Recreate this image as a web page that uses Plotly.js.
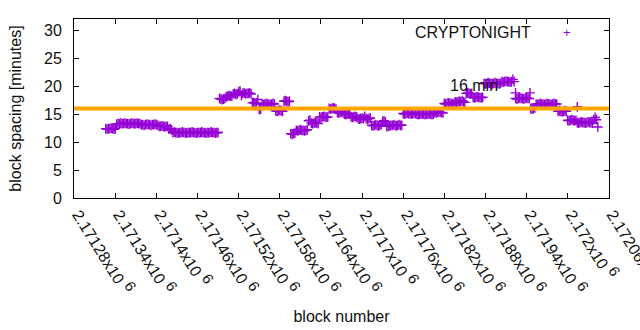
<!DOCTYPE html>
<html>
<head>
<meta charset="utf-8">
<script src="https://cdn.plot.ly/plotly-3.0.1.min.js"></script>
<style>html,body{margin:0;padding:0;background:#fff;}#chart{width:640px;height:330px;}</style>
</head>
<body>
<div id="chart"></div>
<script>
// ---- data ----
const seriesName = "CRYPTONIGHT";
const blockBase = 2171280;
const blockOffsets = [
 46,48,50,52,54,56,58,60,62,64,66,68,70,72,74,76,78,80,82,84,
 86,88,90,92,94,96,98,100,102,104,106,108,110,112,114,116,118,120,122,124,
 126,128,130,132,134,136,138,140,142,144,146,148,150,152,154,156,158,160,162,164,
 166,168,170,172,174,176,178,180,182,184,186,188,190,192,194,196,198,200,202,204,
 206,208,210,212,214,216,218,220,222,224,226,228,230,232,234,236,238,240,242,244,
 246,248,250,252,254,256,258,260,262,264,266,268,270,272,274,276,278,280,282,284,
 286,288,290,292,294,296,298,300,302,304,306,308,310,312,314,316,318,320,322,324,
 326,328,330,332,334,336,338,340,342,344,346,348,350,352,354,356,358,360,362,364,
 366,368,370,372,374,376,378,380,382,384,386,388,390,392,394,396,398,400,402,404,
 406,408,410,412,414,416,418,420,422,424,426,428,430,432,434,436,438,440,442,444,
 446,448,450,452,454,456,458,460,462,464,466,468,470,472,474,476,478,480,482,484,
 486,488,490,492,494,496,498,500,502,504,506,508,510,512,514,516,518,520,522,524,
 526,528,530,532,534,536,538,540,542,544,546,548,550,552,554,556,558,560,562,564,
 566,568,570,572,574,576,578,580,582,584,586,588,590,592,594,596,598,600,602,604,
 606,608,610,612,614,616,618,620,622,624,626,628,630,632,634,636,638,640,642,644,
 646,648,650,652,654,656,658,660,662,664,666,668,670,672,674,676,678,680,682,684,
 686,688,690,692,694,696,698,700,702,704,706,708,710,712,714,716,718,720,722,724,
 726,728,730,732,734,736,738,740,742,744,746,748,750,752,754,756,758,760,762,764
];
const blockSpacing = [
 12.4,12.3,12.4,12.4,12.5,12.4,12.3,12.4,
 13.2,13.3,13.3,13.4,13.3,13.3,13.4,13.3,13.3,13.2,13.3,13.4,13.3,13.3,13.3,13.4,13.3,13.3,
 13.1,13.1,13.0,13.1,13.2,13.1,13.1,13.0,13.1,13.1,13.2,13.1,13.0,
 12.8,12.8,12.9,12.8,12.7,12.8,12.8,
 12.3,12.4,12.2,
 11.7,11.8,11.7,11.7,11.6,11.7,11.7,11.8,11.7,11.7,11.6,11.7,11.7,11.7,11.8,11.7,11.7,
 11.6,11.7,11.7,11.7,11.8,11.7,11.7,11.6,11.7,11.7,11.7,11.8,11.7,11.7,11.6,11.7,11.7,
 17.8,17.7,17.6,17.7,17.8,
 18.1,18.2,18.3,18.2,18.2,
 18.6,18.7,18.5,18.6,
 19.0,19.1,18.3,
 18.7,18.8,18.6,18.7,18.7,18.8,18.6,
 17.0,17.1,16.9,17.0,
 17.6,
 15.8,15.9,
 16.8,16.7,16.8,16.9,16.8,16.8,16.7,16.8,16.9,16.8,
 15.6,15.5,15.6,15.7,15.6,15.5,
 17.3,17.4,17.3,17.2,17.3,
 11.5,11.4,11.5,11.6,
 12.1,12.0,12.1,12.2,12.1,12.1,12.0,12.1,12.2,
 13.8,13.9,
 13.4,13.3,13.4,13.5,13.4,13.3,
 14.5,14.4,14.5,14.6,14.5,14.4,14.5,
 16.0,15.9,16.0,16.1,16.0,15.9,
 15.3,15.2,15.3,15.4,15.3,
 15.0,14.9,15.0,15.1,15.0,
 14.5,14.4,14.5,14.6,14.5,
 14.2,14.1,14.2,14.3,14.2,14.6,14.2,14.1,14.2,14.3,
 13.0,12.9,13.0,13.1,13.0,12.9,13.0,13.1,
 13.7,13.8,13.6,
 12.8,12.8,12.9,13.0,13.0,13.1,13.0,12.9,13.0,13.1,13.0,13.0,
 15.1,15.0,15.1,15.2,15.1,15.1,15.0,15.1,15.2,15.1,
 15.0,14.9,15.0,15.0,15.1,15.0,14.9,15.0,15.0,15.1,15.0,14.9,15.0,
 15.3,15.2,15.3,15.4,15.3,15.3,15.2,
 16.9,16.8,16.9,17.0,16.9,16.9,16.8,16.9,
 17.2,17.1,17.2,17.3,17.2,17.4,17.2,17.1,
 18.7,18.8,18.7,18.6,18.7,
 18.0,17.9,18.0,18.1,18.0,18.0,17.9,18.0,
 20.5,20.4,20.5,20.6,20.5,20.5,20.4,20.5,20.6,20.5,20.5,20.4,20.5,
 20.8,20.7,20.8,20.9,20.8,20.8,20.7,20.8,
 21.2,
 20.8,
 17.8,17.7,17.8,17.9,17.8,17.8,17.7,17.8,17.9,17.8,17.8,
 16.0,15.9,16.0,16.1,
 16.8,16.7,16.8,16.9,16.8,16.8,16.7,16.8,16.9,16.8,16.8,16.7,16.8,16.9,16.8,16.8,
 15.5,15.6,15.5,15.4,15.5,15.6,15.5,
 13.9,13.8,13.9,14.0,13.9,13.8,13.9,
 13.5,13.4,13.5,13.6,13.5,13.5,13.4,13.5,13.6,13.5,13.5,13.4,
 14.0,14.4,14.0,
 12.7
];
// isolated points that sit apart from the runs
const extraOffsets = [644, 665, 734];
const extraSpacing = [18.8, 18.8, 16.3];

const targetSpacing = 16;           // reference line [minutes]
const targetLabel = "16 min";
const xTickValues = [2171280,2171340,2171400,2171460,2171520,2171580,2171640,2171700,2171760,2171820,2171880,2171940,2172000,2172060];
const xTickLabels = ["2.17128","2.17134","2.1714","2.17146","2.17152","2.17158","2.17164","2.1717","2.17176","2.17182","2.17188","2.17194","2.172","2.17206"];
const yTickValues = [0,5,10,15,20,25,30];
const xTitle = "block number";
const yTitle = "block spacing [minutes]";

// ---- build ----
const xs = blockOffsets.concat(extraOffsets).map(o => blockBase + o);
const ys = blockSpacing.concat(extraSpacing);
const purple = "#9400D3";
const orange = "#FFA500";
const fontFam = "Liberation Sans, Arial, sans-serif";
const ink = "#111";
const fs = 16;

const trace = {
  type: "scatter", mode: "markers", name: seriesName,
  x: xs, y: ys,
  marker: {symbol: "cross-thin", size: 7, color: purple, line: {color: purple, width: 1.4}},
  showlegend: false, hoverinfo: "x+y"
};

const axisCommon = {
  showline: true, linecolor: "#000", linewidth: 1, mirror: "ticks",
  ticks: "inside", ticklen: 5, tickcolor: "#000", tickwidth: 1,
  showgrid: false, zeroline: false,
  tickfont: {family: fontFam, size: fs, color: ink}
};

const layout = {
  width: 640, height: 330,
  margin: {l: 74, r: 31, t: 19, b: 132, pad: 0},
  paper_bgcolor: "#fff", plot_bgcolor: "#fff",
  font: {family: fontFam, size: fs, color: ink},
  xaxis: Object.assign({}, axisCommon, {
    range: [xTickValues[0] - 0.3, xTickValues[xTickValues.length - 1] + 0.3],
    tickmode: "array", tickvals: xTickValues,
    ticktext: xTickLabels.map(t => t + "x10 <sup><span style='font-size:15px'>6</span></sup>"),
    tickangle: 58,
    ticklabelshift: 4,
    ticklabeloverflow: "allow",
    title: {text: xTitle, font: {family: fontFam, size: fs, color: ink}, standoff: 14},
    automargin: false
  }),
  yaxis: Object.assign({}, axisCommon, {
    range: [0, 32],
    tickmode: "array", tickvals: yTickValues, ticktext: yTickValues.map(String),
    ticklabelstandoff: 8,
    title: {text: yTitle, font: {family: fontFam, size: fs, color: ink}, standoff: 18},
    automargin: false
  }),
  shapes: [{
    type: "line", xref: "paper", x0: 0, x1: 1, yref: "y", y0: targetSpacing, y1: targetSpacing,
    line: {color: orange, width: 4}, layer: "above"
  }],
  annotations: [
    {xref: "paper", yref: "paper", x: 0.858, y: 0.927, xanchor: "right", yanchor: "middle",
     text: seriesName, showarrow: false, font: {family: fontFam, size: fs, color: ink}},
    {xref: "paper", yref: "paper", x: 0.9215, y: 0.927, xanchor: "center", yanchor: "middle",
     text: "+", showarrow: false, font: {family: fontFam, size: 13, color: purple}},
    {xref: "paper", yref: "paper", x: 0.699, y: 0.628, xanchor: "left", yanchor: "middle",
     text: targetLabel, showarrow: false, font: {family: fontFam, size: fs, color: ink}}
  ]
};

Plotly.newPlot("chart", [trace], layout, {displayModeBar: false, staticPlot: true});
</script>
</body>
</html>
